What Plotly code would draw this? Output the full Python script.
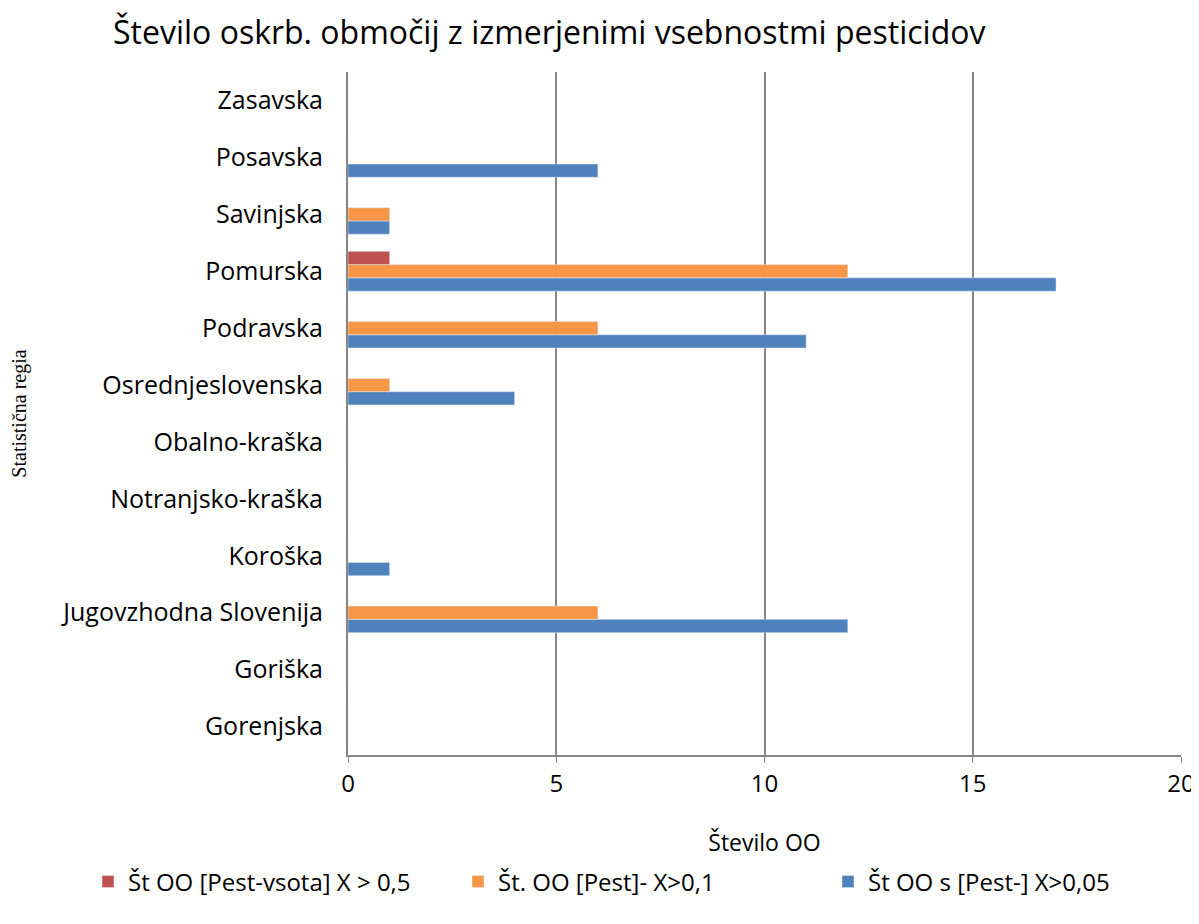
import plotly.graph_objects as go

regions = ["Gorenjska", "Goriška", "Jugovzhodna Slovenija", "Koroška",
           "Notranjsko-kraška", "Obalno-kraška", "Osrednjeslovenska",
           "Podravska", "Pomurska", "Savinjska", "Posavska", "Zasavska"]

st_005 = [0, 0, 12, 1, 0, 0, 4, 11, 17, 1, 6, 0]   # Št OO s [Pest-] X>0,05
st_01 = [0, 0, 6, 0, 0, 0, 1, 6, 12, 1, 0, 0]      # Št. OO [Pest]- X>0,1
st_05 = [0, 0, 0, 0, 0, 0, 0, 0, 1, 0, 0, 0]       # Št OO [Pest-vsota] X > 0,5

fig = go.Figure()
fig.add_trace(go.Bar(y=regions, x=st_005, orientation="h",
                     name="Št OO s [Pest-] X>0,05", marker_color="#4F81BD", legendrank=3))
fig.add_trace(go.Bar(y=regions, x=st_01, orientation="h",
                     name="Št. OO [Pest]- X>0,1", marker_color="#F79646", legendrank=2))
fig.add_trace(go.Bar(y=regions, x=st_05, orientation="h",
                     name="Št OO [Pest-vsota] X > 0,5", marker_color="#C0504D", legendrank=1))

# page body has an 8px margin, so the figure is a bit smaller than the window
W, H = 1191, 908
L, R, T, B = 340, 18, 64, 161
pw, ph = W - L - R, H - T - B
fig.update_layout(
    width=W, height=H,
    barmode="group", bargap=0.3, bargroupgap=0,
    plot_bgcolor="white", paper_bgcolor="white",
    font=dict(family="Open Sans", color="black", size=25),
    margin=dict(l=L, r=R, t=T, b=B),
    title=dict(text="Število oskrb. območij z izmerjenimi vsebnostmi pesticidov",
               x=105 / W, xanchor="left", y=1 - 25 / H, yanchor="middle",
               font=dict(size=32, family="Open Sans")),
    # x < 0 with left anchor lets the legend use the full width on one row
    legend=dict(orientation="h",
                x=(80 - L) / pw, xanchor="left",
                y=-(874 - (H - B)) / ph, yanchor="middle",
                font=dict(size=24), itemwidth=30, entrywidth=325,
                traceorder="normal"),
)
fig.update_xaxes(range=[0, 20], dtick=5, showgrid=True, gridcolor="#868686", gridwidth=2,
                 showline=True, linecolor="#868686", linewidth=2, automargin=False,
                 ticks="outside", ticklen=6, tickcolor="#868686", zeroline=False,
                 tickfont=dict(size=24), ticklabeloverflow="allow",
                 title=dict(text="Število OO", font=dict(size=23), standoff=37))
fig.update_yaxes(showline=True, linecolor="#868686", linewidth=2, ticks="",
                 showgrid=False, automargin=False, ticklabelstandoff=18,
                 title=dict(text="Statistična regia",
                            font=dict(family="Liberation Serif", size=20), standoff=60))

fig.write_html("out.html")
